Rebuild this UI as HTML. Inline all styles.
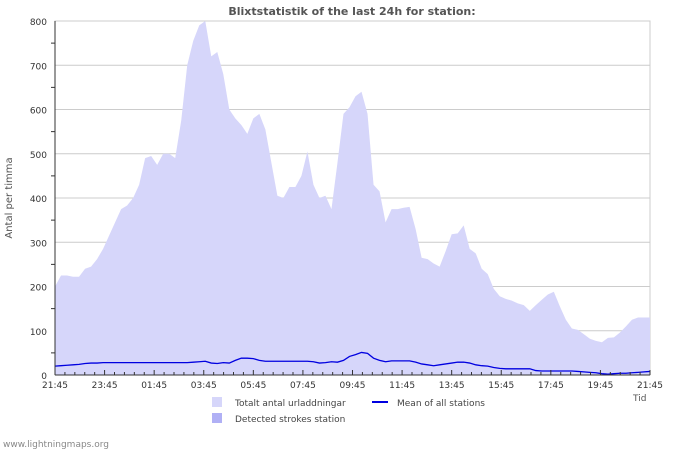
<!DOCTYPE html>
<html><head><meta charset="utf-8"><style>
body{margin:0;background:#fff}
svg{display:block;font-family:"DejaVu Sans","Liberation Sans",sans-serif}
</style></head><body>
<svg id="chart" width="700" height="450">
<text x="352" y="15" text-anchor="middle" font-size="11" font-weight="bold" fill="#555">Blixtstatistik of the last 24h for station:</text>
<g id="grid"></g>
<g id="area"></g>
<g id="axes"></g>
<text transform="translate(12,198) rotate(-90)" text-anchor="middle" font-size="10" fill="#555">Antal per timma</text>
<text x="633" y="401" font-size="9" fill="#555">Tid</text>
<g>
<rect x="212" y="397" width="10" height="10" fill="#d6d6fa"></rect>
<text x="235" y="406" font-size="9" fill="#444">Totalt antal urladdningar</text>
<rect x="212" y="413" width="10" height="10" fill="#b0b0f5"></rect>
<text x="235" y="422" font-size="9" fill="#444">Detected strokes station</text>
<line x1="372" y1="402" x2="388" y2="402" stroke="#0000e0" stroke-width="2"></line>
<text x="397" y="406" font-size="9" fill="#444">Mean of all stations</text>
</g>
<text x="3" y="447" font-size="9" fill="#888">www.lightningmaps.org</text>
</svg>
<script>
const xLabels=["21:45","23:45","01:45","03:45","05:45","07:45","09:45","11:45","13:45","15:45","17:45","19:45","21:45"];
const yTicks=[0,100,200,300,400,500,600,700,800];
const totalValues=[200,225,225,222,222,240,245,262,285,315,345,375,383,400,430,490,495,475,500,500,490,575,700,755,790,800,720,730,680,600,580,565,545,580,590,555,480,405,400,425,425,450,505,430,400,405,375,480,590,605,630,640,590,430,415,345,375,375,378,380,330,265,262,252,245,280,318,320,338,285,275,240,228,195,178,172,168,162,158,145,158,170,182,188,155,125,105,102,92,82,77,74,84,85,96,110,125,130,130,130];
const meanValues=[20,21,22,23,24,26,27,27,28,28,28,28,28,28,28,28,28,28,28,28,28,28,28,29,30,31,27,26,28,27,33,38,38,37,33,31,31,31,31,31,31,31,31,30,27,28,30,29,33,42,46,51,49,38,33,30,32,32,32,32,29,25,23,21,23,25,27,29,29,27,23,21,20,17,15,14,14,14,14,14,10,9,9,9,9,9,9,8,7,6,5,3,2,3,4,4,5,6,7,8];
const X0=55,X1=650,Y0=375,Y1=21,YMAX=800;
const xs=i=>X0+i*(X1-X0)/(totalValues.length-1);
const ys=v=>Y0-v*(Y0-Y1)/YMAX;
const NS="http://www.w3.org/2000/svg";
function mk(p,t,a){const e=document.createElementNS(NS,t);for(const k in a)e.setAttribute(k,a[k]);p.appendChild(e);return e;}
const grid=document.getElementById('grid'),area=document.getElementById('area'),axes=document.getElementById('axes');
yTicks.forEach(v=>{
 const l=mk(grid,'line',{x1:X0,x2:X1,y1:ys(v),y2:ys(v),stroke:'#ccc','stroke-width':1});
 
 
 const t=mk(axes,'text',{x:X0-8,y:ys(v)+4,'text-anchor':'end','font-size':9,fill:'#333'});
 t.textContent=v;
 
 
 const m=mk(axes,'line',{x1:X0-4,x2:X0,y1:ys(v+50),y2:ys(v+50),stroke:'#333'});
 
 
});
const frame=mk(grid,'rect',{x:X0,y:Y1,width:X1-X0,height:Y0-Y1,fill:'none',stroke:'#ccc'});


let d='M'+xs(0)+','+Y0;
totalValues.forEach((v,i)=>{d+=' L'+xs(i)+','+ys(v);});
d+=' L'+xs(totalValues.length-1)+','+Y0+' Z';
const ap=mk(area,'path',{d:d,fill:'#d6d6fa'});


let ld='';
meanValues.forEach((v,i)=>{ld+=(i?' L':'M')+xs(i)+','+ys(v);});
const lp=mk(area,'path',{d:ld,fill:'none',stroke:'#0000e0','stroke-width':1.3});


const xa=mk(axes,'line',{x1:X0,x2:X1,y1:Y0,y2:Y0,stroke:'#333'});


const ya=mk(axes,'line',{x1:X0,x2:X0,y1:Y1,y2:Y0,stroke:'#333'});


const step=(X1-X0)/(xLabels.length-1);
xLabels.forEach((s,i)=>{
 const x=X0+i*step;
 const t=mk(axes,'text',{x:x,y:388,'text-anchor':'middle','font-size':9,fill:'#333'});
 t.textContent=s;
 
 
 const tk=mk(axes,'line',{x1:x,x2:x,y1:Y0-5,y2:Y0,stroke:'#333'});
 
 
 if(i<xLabels.length-1)for(let k=1;k<5;k++){
  const mx=x+k*step/5;
  const m=mk(axes,'line',{x1:mx,x2:mx,y1:Y0-3,y2:Y0,stroke:'#333'});
  
  
 }
});
</script>
</body></html>
